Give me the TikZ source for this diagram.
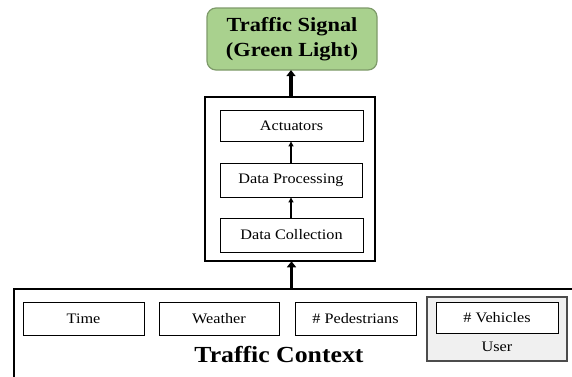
\documentclass[tikz,border=0pt]{standalone}
\usepackage{fontspec}
\setmainfont{Liberation Serif}
\usetikzlibrary{arrows.meta}
\definecolor{greenfill}{HTML}{A9D18E}
\definecolor{greenline}{HTML}{7E9B6A}
\definecolor{userfill}{HTML}{F0F0F0}
\newcommand{\sx}[1]{\scalebox{1.12}[1]{#1}}
\tikzset{
  inbox/.style={draw=black, line width=0.9pt, minimum width=#1, inner sep=0pt, font=\fontsize{14.5}{17}\selectfont},
  outbox/.style={draw=black, line width=1.5pt, inner sep=0pt},
  bigarrow/.style={line width=3.6pt, -{Triangle[width=9pt,length=6pt]}, shorten >=-0.5pt},
  smallarrow/.style={line width=1.2pt, -{Triangle[width=5pt,length=5pt]}},
}
\begin{document}
\begin{tikzpicture}[x=1pt,y=-1pt]
\clip (0,0) rectangle (572,376);
\fill[white] (0,0) rectangle (572,376);
% green signal
\node[draw=greenline, fill=greenfill, line width=1.2pt, rounded corners=9pt, minimum width=170pt, minimum height=62pt, align=center, font=\bfseries\fontsize{20}{25}\selectfont] (sig) at (292,39) {\sx{Traffic Signal}\\\sx{(Green Light)}};
% middle system box
\node[outbox, minimum width=170pt, minimum height=164pt] (mid) at (290,179) {};
\node[inbox=143pt, minimum height=31pt] (act) at (291.5,125.5) {\sx{Actuators}};
\node[inbox=142pt, minimum height=34pt] (proc) at (291,180) {\sx{Data Processing}};
\node[inbox=143pt, minimum height=34pt] (coll) at (291.5,235) {\sx{Data Collection}};
\draw[smallarrow] (coll.north -| proc.south) -- (proc.south);
\draw[smallarrow] (proc.north) -- (proc.north |- act.south);
% context box
\node[outbox, minimum width=572pt, minimum height=102pt, anchor=north west] (ctx) at (13,288) {};
\node[inbox=121pt, minimum height=33pt] (time) at (83.5,318.5) {\sx{Time}};
\node[inbox=120pt, minimum height=33pt] (weather) at (219,318.5) {\sx{Weather}};
\node[inbox=121pt, minimum height=33pt] (ped) at (355.5,318.5) {\sx{\# Pedestrians}};
\node[draw=black!70, fill=userfill, line width=1.2pt, minimum width=140pt, minimum height=64pt, inner sep=0pt] (user) at (497,329) {};
\node[inbox=122pt, minimum height=31pt, fill=white] (veh) at (497,317.5) {\sx{\# Vehicles}};
\node[font=\fontsize{14.5}{17}\selectfont, inner sep=0pt] (userlbl) at (497,347) {\sx{User}};
\node[font=\bfseries\fontsize{23}{27}\selectfont, inner sep=0pt] (ctxlbl) at (279,355) {\sx{Traffic Context}};
% big arrows
\draw[bigarrow] (ctx.north -| mid.south) ++(1.5pt,0) coordinate (c1) -- (c1 |- mid.south);
\draw[bigarrow] (mid.north) ++(1pt,0) coordinate (c2) -- (c2 |- sig.south);
\end{tikzpicture}
\end{document}
